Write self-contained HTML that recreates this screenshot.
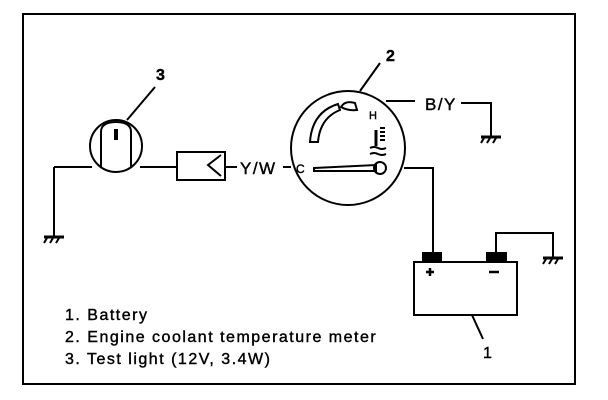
<!DOCTYPE html>
<html><head><meta charset="utf-8"><style>
html,body{margin:0;padding:0;background:#fff;}
svg{display:block}
text{font-family:"Liberation Sans",sans-serif;fill:#000}
</style></head><body>
<svg width="608" height="400" viewBox="0 0 608 400" xmlns="http://www.w3.org/2000/svg">
<rect x="23" y="14" width="552" height="370" fill="none" stroke="#000" stroke-width="2"/>
<g fill="none" stroke="#000" stroke-width="2">
<circle cx="116" cy="146" r="26"/>
<path d="M101,168 V132 Q101,122 116,122 Q131,122 131,132 V168"/>
<path d="M116,129 V140" stroke-width="4"/>
<line x1="155" y1="87" x2="127" y2="120"/>
<path d="M54,167 H92"/><path d="M54,167 V236"/>
<path d="M44,237 H64" stroke-width="3"/><path d="M47,238 l-3,5 M53,238 l-3,5 M59,238 l-3,5"/>
<path d="M140,167 H177"/>
<rect x="177" y="152" width="48" height="28"/>
<path d="M221,155 L208,165 L221,176"/>
<path d="M225,167 H237"/>
<path d="M283,167 H291"/>
<circle cx="348" cy="148" r="57"/>
<line x1="380" y1="63" x2="360" y2="91"/>
<path d="M310,142 Q312,112 338,104 L340,110 Q320,118 318,142 Z"/>
<path d="M341,107 Q345,100 355,103 L357,110 Q348,111 341,107Z"/>
<path d="M314,168 L376,165 L376,171 L314,171 Z"/>
<circle cx="380" cy="168" r="6"/>
<path d="M376,130 V146" stroke-width="3"/>
<path d="M380,128 h5 M380,132 h5 M380,136 h5 M380,140 h5"/>
<path d="M370,148 q4,-2 8,0 t8,0 M370,154 q4,-2 8,0 t8,0"/>
<path d="M386,101 H415"/>
<path d="M461,103 H491 V136"/>
<path d="M481,137 H501" stroke-width="3"/><path d="M484,138 l-3,5 M490,138 l-3,5 M496,138 l-3,5"/>
<path d="M404,168 H433 V252"/>
<rect x="414" y="262" width="103" height="53"/>
<rect x="423" y="253" width="18" height="9" fill="#000"/>
<rect x="487" y="253" width="19" height="9" fill="#000"/>
<path d="M496,253 V233 H553 V257"/>
<path d="M543,258 H563" stroke-width="3"/><path d="M546,259 l-3,5 M552,259 l-3,5 M558,259 l-3,5"/>
<path d="M426,272 h8 M430,268 v8" stroke-width="2.5"/>
<path d="M489,272 h10" stroke-width="2.5"/>
<line x1="472" y1="315" x2="483" y2="339"/>
</g>
<g stroke="#000" stroke-width="0.4">
<text x="156" y="80" font-size="16" font-weight="bold">3</text>
<text x="386" y="61" font-size="16" font-weight="bold">2</text>
<text x="483" y="358" font-size="16">1</text>
<text x="240" y="174" font-size="17" letter-spacing="1.5">Y/W</text>
<text x="296" y="173" font-size="12">C</text>
<text x="369" y="119" font-size="11">H</text>
<text x="425" y="110" font-size="17" letter-spacing="1.5">B/Y</text>
<text x="65" y="320" font-size="16" letter-spacing="1.5">1.  Battery</text>
<text x="65" y="342" font-size="16" letter-spacing="1.5">2.  Engine coolant temperature meter</text>
<text x="65" y="364" font-size="16" letter-spacing="1.5">3.  Test light (12V, 3.4W)</text>
</g>
</svg>
</body></html>
